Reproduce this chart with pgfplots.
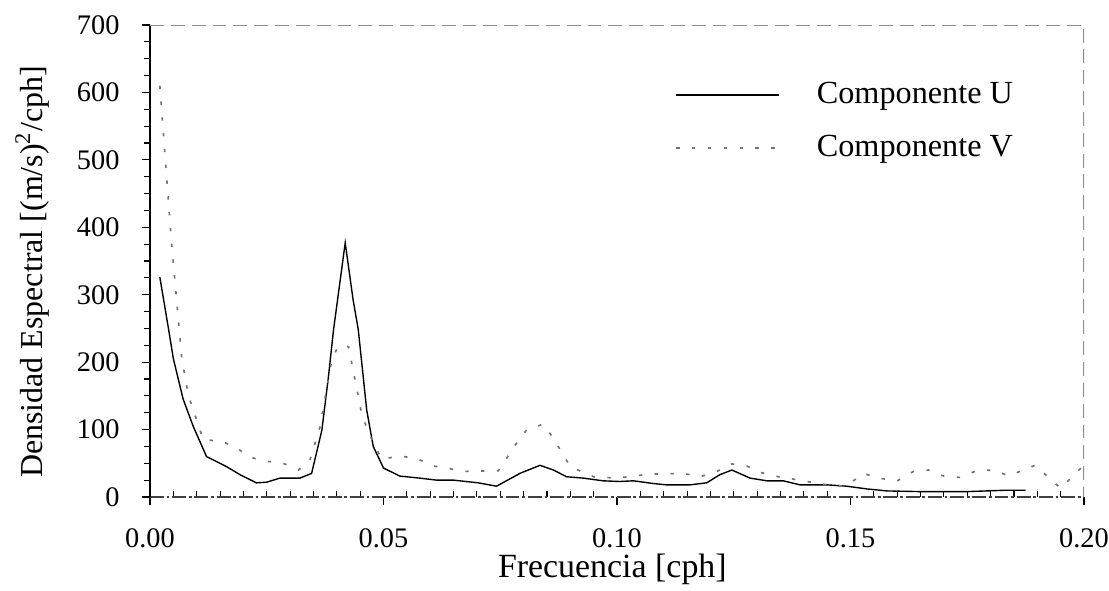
\documentclass[border=0pt]{standalone}
\usepackage{fontspec}
\setmainfont{Liberation Serif}
\usepackage{pgfplots}
\pgfplotsset{compat=1.18}

\begin{document}
\begin{tikzpicture}
\begin{axis}[
  scale only axis,
  width=336.2pt, height=169.9pt,
  xmin=0, xmax=0.2, ymin=0, ymax=700,
  axis lines*=left,
  axis line style={-},
  x axis line style={black!75, dash pattern=on 5pt off 1pt on 1pt off 1pt},
  y axis line style={black, line width=0.5pt},
  xtick={0,0.05,0.1,0.15,0.2},
  ytick={0,100,200,300,400,500,600,700},
  minor x tick num=9,
  minor y tick num=3,
  tick align=outside,
  major tick length=3pt,
  minor tick length=2pt,
  minor x tick style={yshift=2pt},
  tick style={black, line width=0.4pt},
  scaled x ticks=false,
  /pgf/number format/assume math mode=true,
  tick label style={font=\fontsize{10.2}{12}\selectfont},
  yticklabel style={inner sep=0pt, xshift=-7.8pt},
  xticklabel style={inner sep=0pt, yshift=-8.2pt,
    /pgf/number format/fixed, /pgf/number format/fixed zerofill,
    /pgf/number format/precision=2},
  xlabel={Frecuencia [cph]},
  ylabel={Densidad Espectral [(m/s)\textsuperscript{2}/cph]},
  xlabel style={font=\fontsize{12.2}{14}\selectfont,
    at={(axis description cs:0.495,-0.1716)}, anchor=base},
  ylabel style={font=\fontsize{11.5}{13}\selectfont,
    at={(axis description cs:-0.1263,0.477)}, anchor=center},
  legend style={draw=none, fill=none, at={(0.562,0.88)}, anchor=north west,
    inner sep=0pt, column sep=13.3pt, row sep=10pt,
    nodes={inner sep=0pt, font=\fontsize{11.6}{13}\selectfont}},
  legend cell align=left,
  legend image code/.code={\draw[#1] (0pt,0pt) -- (37pt,0pt);},
]
% Componente U
\addplot[black, line width=0.5pt] coordinates {
(0.0021,326) (0.0039,252) (0.0050,205) (0.0071,145) (0.0093,104)
(0.0121,60) (0.0164,45) (0.0193,33) (0.0228,21) (0.0250,22)
(0.0278,28) (0.0321,28) (0.0346,35) (0.0368,99) (0.0382,178)
(0.0393,248) (0.0418,377) (0.0435,292) (0.0446,248) (0.0464,129)
(0.0478,75) (0.0500,43) (0.0535,31) (0.0578,28) (0.0614,25)
(0.0650,25) (0.0703,21) (0.0742,16) (0.0792,35) (0.0835,47)
(0.0864,40) (0.0892,30) (0.0928,28) (0.0970,24) (0.1006,23)
(0.1035,24) (0.1078,20) (0.1106,18) (0.1156,18) (0.1192,21)
(0.1220,33) (0.1246,40) (0.1285,28) (0.1321,24) (0.1356,24)
(0.1392,18) (0.1450,18) (0.1492,16) (0.1535,12) (0.1578,9)
(0.1650,8) (0.1750,8) (0.1830,10) (0.1875,10)
};
% Componente V
\addplot[black!55, line width=0.6pt, dash pattern=on 1.2pt off 4.5pt] coordinates {
(0.0021,610) (0.0046,378) (0.0068,206) (0.0082,151) (0.0114,85)
(0.0150,83) (0.0182,75) (0.0210,60) (0.0246,53) (0.0282,51)
(0.0318,40) (0.0343,56) (0.0364,104) (0.0389,203) (0.0403,224)
(0.0425,223) (0.0439,174) (0.0453,124) (0.0467,97) (0.0496,56)
(0.0535,61) (0.0571,57) (0.0607,46) (0.0675,38) (0.0746,39)
(0.0785,80) (0.0807,100) (0.0842,108) (0.0862,89) (0.0900,45)
(0.0950,30) (0.1000,28) (0.1070,34) (0.1142,35) (0.1178,30)
(0.1214,38) (0.1246,49) (0.1278,46) (0.1310,36) (0.1346,30)
(0.1381,26) (0.1450,18) (0.1490,16) (0.1528,35) (0.1560,28)
(0.1600,24) (0.1635,38) (0.1667,40) (0.1700,31) (0.1735,29)
(0.1770,39) (0.1810,40) (0.1838,31) (0.1895,47) (0.1950,13)
(0.1995,44)
};
\legend{Componente U, Componente V}
\draw[black!45, line width=0.4pt, dash pattern=on 5pt off 2.5pt]
  (rel axis cs:0,1) -- (rel axis cs:1,1) -- (rel axis cs:1,0);
\end{axis}
\pgfresetboundingbox
\path (-54pt,-33.5pt) rectangle (345.2pt,178.9pt);
\end{tikzpicture}
\end{document}
